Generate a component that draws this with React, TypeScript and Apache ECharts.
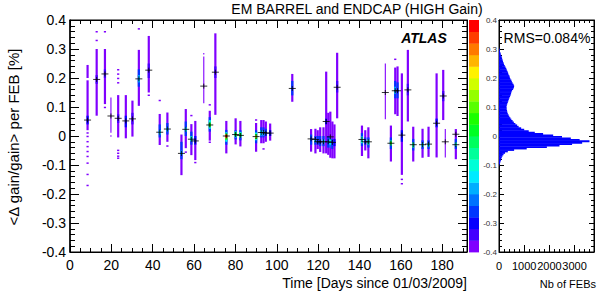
import React, { useEffect, useRef } from "react";
import * as echarts from "echarts";

const FONT = "'Liberation Sans', Arial, Helvetica, sans-serif";

// ---- 2D histogram cells: [day, yLow, yHigh, colourLevel(0..19)] ----
const cells: number[][] = [
  // day 8.5
  [8.5, 0.2, 0.245, 0], [8.5, 0.02, 0.192, 0], [8.5, 0.04, 0.07, 2],
  [8.5, 0.008, 0.013, 0], [8.5, -0.004, 0.001, 0], [8.5, -0.022, -0.017, 0], [8.5, -0.039, -0.034, 0],
  [8.5, -0.056, -0.051, 0], [8.5, -0.073, -0.068, 0], [8.5, -0.096, -0.091, 0], [8.5, -0.135, -0.13, 0], [8.5, -0.173, -0.168, 0],
  // day 12.9
  [12.9, 0.357, 0.362, 0], [12.9, 0.327, 0.332, 0], [12.9, 0.07, 0.3, 0], [12.9, 0.18, 0.21, 1],
  // day 16.9
  [16.9, 0.357, 0.362, 0], [16.9, 0.11, 0.3, 0], [16.9, 0.096, 0.101, 0], [16.9, 0.2, 0.23, 1],
  // day 23.3
  [23.3, 0.226, 0.231, 0], [23.3, 0.211, 0.216, 0], [23.3, 0.196, 0.201, 0], [23.3, 0.181, 0.186, 0],
  [23.3, -0.005, 0.141, 0], [23.3, 0.045, 0.075, 1],
  [23.3, -0.052, -0.047, 0], [23.3, -0.062, -0.057, 0], [23.3, -0.072, -0.067, 0], [23.3, -0.079, -0.074, 0],
  // day 27
  [27, -0.008, 0.141, 0], [27, 0.03, 0.07, 2],
  // day 30.2
  [30.2, -0.002, 0.122, 0], [30.2, 0.04, 0.08, 1],
  // day 33.3
  [33.3, 0.367, 0.372, 0], [33.3, 0.104, 0.297, 0], [33.3, 0.17, 0.23, 3], [33.3, 0.185, 0.21, 5],
  // day 38.1
  [38.1, 0.15, 0.345, 0], [38.1, 0.138, 0.143, 0], [38.1, 0.2, 0.25, 1],
  // day 43.4
  [43.4, 0.12, 0.125, 0], [43.4, -0.031, 0.076, 0], [43.4, -0.005, 0.04, 3], [43.4, 0.005, 0.02, 6],
  // day 47.1
  [47.1, -0.02, 0.081, 0], [47.1, -0.037, -0.032, 0], [47.1, 0.005, 0.045, 3], [47.1, 0.015, 0.03, 5],
  // day 53.9
  [53.9, -0.135, 0.005, 0], [53.9, -0.08, -0.02, 3], [53.9, -0.065, -0.05, 5],
  // day 56
  [56, -0.042, 0.093, 0], [56, -0.058, -0.053, 0], [56, 0.0, 0.05, 3], [56, 0.015, 0.03, 6],
  // day 58.7
  [58.7, 0.068, 0.073, 0], [58.7, -0.066, 0.041, 0], [58.7, -0.03, 0.015, 3], [58.7, -0.018, 0.0, 7],
  // day 60.6
  [60.6, -0.083, 0.052, 0], [60.6, -0.094, -0.089, 0], [60.6, -0.03, 0.0, 2],
  // day 67.6
  [67.6, 0.105, 0.11, 0], [67.6, -0.016, 0.087, 0], [67.6, -0.024, -0.019, 0],
  [67.6, 0.015, 0.065, 3], [67.6, 0.025, 0.055, 7], [67.6, 0.032, 0.046, 11],
  // day 70.3
  [70.3, 0.073, 0.354, 0], [70.3, 0.2, 0.24, 1],
  // day 75.6
  [75.6, -0.06, 0.052, 0], [75.6, -0.03, 0.021, 3], [75.6, -0.02, 0.013, 7],
  [75.6, -0.013, 0.008, 11], [75.6, -0.008, 0.006, 15], [75.6, -0.005, 0.004, 19],
  // day 80.1
  [80.1, -0.029, 0.061, 0], [80.1, -0.012, 0.02, 3], [80.1, -0.005, 0.016, 7], [80.1, 0.0, 0.012, 10],
  // day 82.4
  [82.4, -0.036, 0.052, 0], [82.4, -0.015, 0.02, 3], [82.4, -0.006, 0.014, 7], [82.4, -0.002, 0.01, 10],
  // day 90
  [90, 0.053, 0.058, 0], [90, -0.054, 0.045, 0], [90, -0.025, 0.02, 3], [90, -0.015, 0.012, 7],
  [90, -0.01, 0.006, 11], [90, -0.006, 0.002, 14],
  // days 92.5 - 96.8
  [92.5, -0.025, 0.055, 0], [92.5, -0.005, 0.03, 3], [92.5, 0.002, 0.02, 6],
  [93.6, -0.025, 0.055, 0], [93.6, -0.047, -0.042, 0], [93.6, -0.005, 0.03, 3], [93.6, 0.002, 0.018, 6],
  [94.7, -0.02, 0.05, 0], [94.7, 0.0, 0.025, 3],
  [96.8, -0.016, 0.043, 0], [96.8, 0.0, 0.02, 2],
  // day 107.5
  [107.5, 0.118, 0.214, 0], [107.5, 0.14, 0.19, 3],
  // days 116 - 128
  [116.6, -0.054, 0.024, 0], [116.6, -0.03, 0.005, 3],
  [118.7, -0.06, 0.025, 0], [118.7, -0.03, 0.0, 3], [118.7, -0.022, -0.01, 6],
  [119.8, -0.045, 0.02, 0], [119.8, -0.03, 0.0, 3],
  [121, -0.055, 0.03, 0], [121, -0.035, 0.0, 3],
  [122.6, -0.06, 0.03, 0], [122.6, -0.035, 0.0, 3], [122.6, -0.025, -0.012, 6],
  [123.9, -0.06, 0.222, 0], [123.9, 0.04, 0.06, 2],
  [124.9, -0.065, 0.08, 0], [124.9, -0.04, 0.0, 3],
  [125.9, -0.075, 0.084, 0], [125.9, -0.04, -0.005, 4], [125.9, -0.03, -0.012, 7],
  [126.9, -0.077, 0.05, 0], [126.9, -0.045, -0.01, 3],
  [127.9, -0.077, 0.04, 0], [127.9, -0.035, -0.01, 2],
  // day 129.2
  [129.2, 0.061, 0.287, 0], [129.2, 0.15, 0.19, 1],
  // days 141 - 144
  [141.2, -0.069, 0.036, 0], [141.2, -0.035, 0.01, 3], [141.2, -0.025, -0.002, 7],
  [142.8, -0.05, 0.02, 0], [142.8, -0.03, -0.005, 3],
  [144.3, -0.077, 0.03, 0], [144.3, -0.04, -0.005, 3], [144.3, -0.03, -0.013, 8],
  // day 155.2
  [155.2, -0.088, 0.036, 0], [155.2, -0.045, -0.005, 3], [155.2, -0.033, -0.015, 8], [155.2, -0.028, -0.02, 11],
  // days 157 - 158
  [157.3, 0.262, 0.267, 0], [157.3, 0.075, 0.236, 0], [157.3, 0.13, 0.19, 3], [157.3, 0.145, 0.17, 5],
  [158.4, 0.069, 0.24, 0], [158.4, 0.13, 0.185, 3],
  // day 160.5
  [160.5, -0.134, 0.216, 0], [160.5, -0.152, -0.147, 0], [160.5, -0.167, -0.162, 0], [160.5, -0.02, 0.02, 2],
  // day 163.4
  [163.4, 0.05, 0.297, 0], [163.4, 0.14, 0.18, 1],
  // days 166 - 187
  [166, -0.088, 0.032, 0], [166, -0.05, -0.01, 3], [166, -0.04, -0.022, 8],
  [170.5, -0.075, 0.025, 0], [170.5, -0.045, -0.015, 3], [170.5, -0.037, -0.025, 7],
  [173.4, -0.072, 0.032, 0], [173.4, -0.045, -0.015, 3], [173.4, -0.037, -0.025, 7],
  [177.3, -0.074, 0.216, 0], [177.3, 0.03, 0.06, 2],
  [180.5, 0.055, 0.228, 0], [180.5, 0.12, 0.155, 1],
  [186.6, -0.08, 0.024, 0], [186.6, -0.045, -0.01, 3], [186.6, -0.035, -0.022, 7],
];

// narrow (partially filled) columns: [day, yLow, yHigh, level]
const thinCells: number[][] = [
  [19.8, 0.011, 0.133, 0], [19.8, -0.002, 0.003, 0],
  [64.7, 0.113, 0.274, 0], [64.7, 0.281, 0.286, 0],
  [152.5, 0.058, 0.25, 0],
  [181.5, -0.074, 0.024, 0],
];

// profile means per FEB-day: [day, mean]
const profilePoints: number[][] = [
  [8.5, 0.055], [12.9, 0.195], [16.9, 0.214], [19.8, 0.069], [23.3, 0.061], [27, 0.052], [30.2, 0.059],
  [33.3, 0.197], [38.1, 0.227], [43.4, 0.013], [47.1, 0.024], [53.9, -0.06], [56, 0.023], [58.7, -0.011],
  [60.6, -0.017], [64.7, 0.172], [67.6, 0.038], [70.3, 0.22], [75.6, 0.0], [80.1, 0.005], [82.4, 0.002],
  [90, -0.002], [92.5, 0.012], [93.6, 0.012], [94.7, 0.01], [96.8, 0.01], [107.5, 0.164], [116.6, -0.01],
  [118.7, -0.012], [119.8, -0.02], [121, -0.02], [122.6, -0.02], [123.9, 0.05], [124.9, -0.02],
  [125.9, -0.003], [126.9, -0.022], [129.2, 0.168], [141.2, -0.012], [142.8, -0.02], [144.3, -0.02],
  [152.5, 0.15], [155.2, -0.025], [157.3, 0.156], [158.4, 0.156], [160.5, 0.003], [163.4, 0.159],
  [166, -0.03], [170.5, -0.03], [173.4, -0.028], [177.3, 0.044], [180.5, 0.138], [181.5, -0.02],
  [186.6, 0.006], [186.6, -0.03],
];

// projection histogram (Nb of FEBs), bins of 0.005 starting at -0.1
const histStart = -0.1;
const histBin = 0.005;
const histCounts: number[] = [
  20, 40, 60, 75, 90, 110, 140, 180, 240, 350,
  600, 1100, 1900, 2400, 2900, 3300, 3590, 3200, 2850, 2500,
  2150, 1750, 1420, 1180, 1000, 880, 780, 720, 650, 590,
  540, 490, 450, 410, 380, 350, 330, 320, 305, 300,
  300, 310, 330, 350, 370, 390, 410, 440, 460, 480,
  490, 520, 560, 590, 600, 580, 540, 510, 490, 450,
  430, 410, 380, 360, 340, 310, 290, 260, 230, 200,
  180, 160, 140, 125, 110, 90, 70, 55, 40, 25,
  12,
];

function hueColor(h: number): string {
  const x = 1 - Math.abs(((h / 60) % 2) - 1);
  let r = 0, g = 0, b = 0;
  if (h < 60) { r = 1; g = x; }
  else if (h < 120) { r = x; g = 1; }
  else if (h < 180) { g = 1; b = x; }
  else if (h < 240) { g = x; b = 1; }
  else { r = x; b = 1; }
  const c = (v: number) => Math.round(v * 255);
  return `rgb(${c(r)},${c(g)},${c(b)})`;
}
const NLEV = 20;
const palette = Array.from({ length: NLEV }, (_, i) => hueColor(270 * (1 - i / (NLEV - 1))));

const fmt1 = (v: number) => (Math.abs(v) < 1e-9 ? "0" : String(Math.round(v * 10) / 10));

export default function App() {
  const ref = useRef<HTMLDivElement>(null);
  useEffect(() => {
    if (!ref.current) return;
    const chart = echarts.init(ref.current, undefined, { renderer: "svg" });

    const tickStyle = { color: "#000", width: 1 };
    const mainX = (pos: "bottom" | "top") => ({
      gridIndex: 0, type: "value", min: 0, max: 192, interval: 20, position: pos,
      axisLine: { show: true, onZero: false, lineStyle: tickStyle },
      axisTick: { show: true, inside: true, length: 8, lineStyle: tickStyle },
      minorTick: { show: true, splitNumber: 4, length: 4, lineStyle: tickStyle },
      splitLine: { show: false },
      axisLabel: pos === "bottom"
        ? { show: true, color: "#000", fontSize: 14, fontFamily: FONT, margin: 6,
            formatter: (v: number) => (v % 20 === 0 ? String(v) : "") }
        : { show: false },
    });
    const mainY = (pos: "left" | "right") => ({
      gridIndex: 0, type: "value", min: -0.4, max: 0.4, interval: 0.1, position: pos,
      axisLine: { show: true, onZero: false, lineStyle: { color: "#000", width: pos === "left" ? 1.5 : 1 } },
      axisTick: { show: true, inside: true, length: 9, lineStyle: tickStyle },
      minorTick: { show: true, splitNumber: 5, length: 5, lineStyle: tickStyle },
      splitLine: { show: false },
      axisLabel: pos === "left"
        ? { show: true, color: "#000", fontSize: 14, fontFamily: FONT, margin: 4, formatter: fmt1 }
        : { show: false },
    });
    const histX = (pos: "bottom" | "top") => ({
      gridIndex: 1, type: "value", min: 0, max: 3770, interval: 1000, position: pos,
      axisLine: { show: true, onZero: false, lineStyle: tickStyle },
      axisTick: { show: true, inside: true, length: 7, lineStyle: tickStyle },
      minorTick: { show: true, splitNumber: 5, length: 3, lineStyle: tickStyle },
      splitLine: { show: false },
      axisLabel: pos === "bottom"
        ? { show: true, color: "#000", fontSize: 11, fontFamily: FONT, margin: 8,
            formatter: (v: number) => (v % 1000 === 0 ? String(v) : "") }
        : { show: false },
    });
    const histY = (pos: "left" | "right") => ({
      gridIndex: 1, type: "value", min: -0.4, max: 0.4, interval: 0.1, position: pos,
      axisLine: { show: true, onZero: false, lineStyle: tickStyle },
      axisTick: { show: true, inside: true, length: 5, lineStyle: tickStyle },
      minorTick: { show: true, splitNumber: 5, length: 3, lineStyle: tickStyle },
      splitLine: { show: false },
      axisLabel: pos === "left"
        ? { show: true, color: "#333", fontSize: 8, fontFamily: FONT, margin: 2, formatter: fmt1 }
        : { show: false },
    });

    const cellRender = (w: number) => (_p: any, api: any) => {
      const d = api.value(0);
      const lo = api.value(1);
      const hi = api.value(2);
      const lvl = api.value(3);
      const a = api.coord([d, hi]);
      const b = api.coord([d, lo]);
      return {
        type: "rect",
        shape: { x: a[0] - w / 2, y: a[1], width: w, height: Math.max(b[1] - a[1], 1.5) },
        style: { fill: palette[lvl] },
      };
    };

    const markerStyle = { stroke: "rgba(0,0,0,0.8)", lineWidth: 1 };

    const colorbar = palette.map((c, i) => ({
      type: "rect",
      shape: { x: 469, y: 252 - ((i + 1) * 232) / NLEV, width: 10, height: 232 / NLEV + 0.4 },
      style: { fill: c },
      silent: true,
    }));

    const textEl = (text: string, x: number, y: number, font: string, align: string, rotation = 0) => ({
      type: "text", x, y, rotation, silent: true,
      style: { text, font, fill: "#000", textAlign: align, textVerticalAlign: "middle" },
    });

    chart.setOption({
      animation: false,
      backgroundColor: "#fff",
      grid: [
        { left: 70, top: 20, width: 397, height: 232, show: true, borderColor: "#000", borderWidth: 1, backgroundColor: "transparent" },
        { left: 499, top: 20, width: 97, height: 232, show: true, borderColor: "#000", borderWidth: 1, backgroundColor: "transparent" },
      ],
      xAxis: [mainX("bottom"), mainX("top"), histX("bottom"), histX("top")],
      yAxis: [mainY("left"), mainY("right"), histY("left"), histY("right")],
      series: [
        {
          type: "custom", xAxisIndex: 0, yAxisIndex: 0, clip: true,
          renderItem: cellRender(2.2), data: cells, silent: true,
        },
        {
          type: "custom", xAxisIndex: 0, yAxisIndex: 0, clip: true,
          renderItem: cellRender(1.1), data: thinCells, silent: true,
        },
        {
          type: "custom", xAxisIndex: 0, yAxisIndex: 0, clip: true, silent: true,
          data: profilePoints,
          renderItem: (_p: any, api: any) => {
            const p = api.coord([api.value(0), api.value(1)]);
            return {
              type: "group",
              children: [
                { type: "line", shape: { x1: p[0] - 3.5, y1: p[1], x2: p[0] + 3.5, y2: p[1] }, style: markerStyle },
                { type: "line", shape: { x1: p[0], y1: p[1] - 2.5, x2: p[0], y2: p[1] + 2.5 }, style: markerStyle },
              ],
            };
          },
        },
        {
          type: "custom", xAxisIndex: 2, yAxisIndex: 2, clip: true, silent: true,
          data: histCounts.map((c, i) => [c, histStart + i * histBin, histStart + (i + 1) * histBin]),
          renderItem: (_p: any, api: any) => {
            const a = api.coord([0, api.value(2)]);
            const b = api.coord([api.value(0), api.value(1)]);
            return {
              type: "rect",
              shape: { x: a[0], y: a[1], width: b[0] - a[0], height: b[1] - a[1] + 0.4 },
              style: { fill: "#0000ff" },
            };
          },
        },
      ],
      graphic: [
        ...colorbar,
        textEl("EM BARREL and ENDCAP (HIGH Gain)", 357, 9, `14px ${FONT}`, "center"),
        textEl("ATLAS", 424, 38, `italic bold 14px ${FONT}`, "center"),
        textEl("RMS=0.084%", 547, 38, `14px ${FONT}`, "center"),
        textEl("<\u0394 gain/gain> per FEB [%]", 13, 137, `15px ${FONT}`, "center", Math.PI / 2),
        textEl("Time [Days since 01/03/2009]", 467, 283, `14px ${FONT}`, "right"),
        textEl("Nb of FEBs", 596, 284, `11px ${FONT}`, "right"),
      ],
    });
    return () => chart.dispose();
  }, []);
  return <div ref={ref} style={{ position: "absolute", left: 0, top: 0, width: 597, height: 296 }} />;
}
